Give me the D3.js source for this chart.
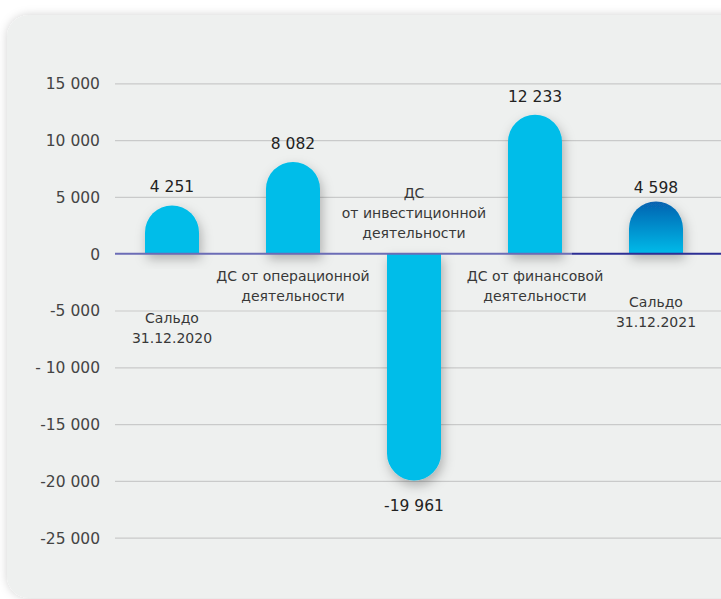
<!DOCTYPE html><html><meta charset="UTF-8">
<title>Движение ДС</title>
<style>
  body { margin: 0; background: #ffffff; overflow: hidden; }
  .tick-label { font: 15.5px "DejaVu Sans", sans-serif; fill: #444; }
  .value-label { font: 15.5px "DejaVu Sans", sans-serif; fill: #222; }
  .cat-label { font: 14px "DejaVu Sans", sans-serif; fill: #383838; }
</style>
<script src="https://cdn.jsdelivr.net/npm/d3@7"></script>
<body>
<svg width="721" height="599"></svg>
<script>

  // data
  var categories = ["Сальдо 31.12.2020", "ДС от операционной деятельности", "ДС от инвестиционной деятельности",
                    "ДС от финансовой деятельности", "Сальдо 31.12.2021"];
  var values = [4251, 8082, -19961, 12233, 4598];
  var valueLabels = ["4 251", "8 082", "-19 961", "12 233", "4 598"];
  var catLines = [["Сальдо", "31.12.2020"], ["ДС от операционной", "деятельности"],
                  ["ДС", "от инвестиционной", "деятельности"], ["ДС от финансовой", "деятельности"],
                  ["Сальдо", "31.12.2021"]];
  var tickValues = [15000, 10000, 5000, 0, -5000, -10000, -15000, -20000, -25000];
  var tickLabels = ["15 000", "10 000", "5 000", "0", "-5 000", "- 10 000", "-15 000", "-20 000", "-25 000"];

  // layout of category captions (first line y, px from the zero line)
  var catTop = [69, 27, -56, 27, 53];

  var svg = d3.select("svg"),
      width = +svg.attr("width"),
      height = +svg.attr("height");

  var defs = svg.append("defs");

  var cardShadow = defs.append("filter").attr("id", "cardShadow")
      .attr("x", "-10%").attr("y", "-10%").attr("width", "120%").attr("height", "120%");
  cardShadow.append("feDropShadow").attr("dx", 0).attr("dy", 0).attr("stdDeviation", 5)
      .attr("flood-color", "#000").attr("flood-opacity", 0.18);

  var barShadow = defs.append("filter").attr("id", "barShadow")
      .attr("x", "-60%").attr("y", "-30%").attr("width", "220%").attr("height", "160%");
  barShadow.append("feDropShadow").attr("dx", 2).attr("dy", 5).attr("stdDeviation", 6)
      .attr("flood-color", "#000").attr("flood-opacity", 0.28);

  var lastGrad = defs.append("linearGradient").attr("id", "lastGrad")
      .attr("x1", 0).attr("y1", 0).attr("x2", 0).attr("y2", 1);
  lastGrad.append("stop").attr("offset", "0%").attr("stop-color", "#0762b0");
  lastGrad.append("stop").attr("offset", "100%").attr("stop-color", "#00bbe9");

  // card
  svg.append("rect")
      .attr("x", 7).attr("y", 15)
      .attr("width", 800).attr("height", 583)
      .attr("rx", 22)
      .attr("fill", "#eef0ef")
      .attr("filter", "url(#cardShadow)");

  var y = d3.scaleLinear().domain([-25000, 15000]).range([537.7, 83.3]);
  var x = d3.scalePoint().domain(categories).range([172, 656]);
  var barW = 54, r = barW / 2;
  var gridX0 = 115;

  // grid + tick labels
  var yAxis = d3.axisLeft(y).tickValues(tickValues)
      .tickFormat(function(d, i) { return tickLabels[i]; })
      .tickSize(-(width - gridX0)).tickPadding(15);

  var gAxis = svg.append("g").attr("transform", "translate(" + gridX0 + ",0)").call(yAxis);
  gAxis.select(".domain").remove();
  gAxis.selectAll(".tick line").attr("stroke", "#c9caca").attr("stroke-width", 1.2)
      .filter(function(d) { return d === 0; }).remove();
  gAxis.selectAll(".tick text").attr("class", "tick-label").attr("dy", "0.35em")
      .attr("font-family", null).attr("font-size", null).attr("fill", null);

  // bars
  function barPath(d, i) {
    var cx = x(categories[i]), x0 = cx - r, x1 = cx + r, y0 = y(0), yv = y(d);
    if (d >= 0) {
      return "M" + x0 + "," + y0 + "L" + x0 + "," + (yv + r) +
             "A" + r + "," + r + " 0 0 1 " + x1 + "," + (yv + r) + "L" + x1 + "," + y0 + "Z";
    }
    return "M" + x0 + "," + y0 + "L" + x0 + "," + (yv - r) +
           "A" + r + "," + r + " 0 0 0 " + x1 + "," + (yv - r) + "L" + x1 + "," + y0 + "Z";
  }

  svg.append("g").selectAll("path")
    .data(values)
    .enter().append("path")
      .attr("d", barPath)
      .attr("fill", function(d, i) { return i === values.length - 1 ? "url(#lastGrad)" : "#00bde9"; })
      .attr("filter", "url(#barShadow)");

  // zero line
  var split = x(categories[3]) + r + 10;
  svg.append("line")
      .attr("x1", gridX0).attr("x2", split)
      .attr("y1", y(0)).attr("y2", y(0))
      .attr("stroke", "#6b6cb6").attr("stroke-width", 2);
  svg.append("line")
      .attr("x1", split).attr("x2", width)
      .attr("y1", y(0)).attr("y2", y(0))
      .attr("stroke", "#2d2f95").attr("stroke-width", 2);

  // value labels
  svg.append("g").selectAll("text")
    .data(values)
    .enter().append("text")
      .attr("class", "value-label")
      .attr("text-anchor", "middle")
      .attr("x", function(d, i) { return x(categories[i]); })
      .attr("y", function(d, i) { return d >= 0 ? y(d) - (i === values.length - 1 ? 8 : 13) : y(d) + 31; })
      .text(function(d, i) { return valueLabels[i]; });

  // category labels
  var cat = svg.append("g").selectAll("text")
    .data(catLines)
    .enter().append("text")
      .attr("class", "cat-label")
      .attr("text-anchor", "middle")
      .attr("x", function(d, i) { return x(categories[i]); })
      .attr("y", function(d, i) { return y(0) + catTop[i]; });

  cat.selectAll("tspan")
    .data(function(d) { return d; })
    .enter().append("tspan")
      .attr("x", function() { return d3.select(this.parentNode).attr("x"); })
      .attr("dy", function(d, j) { return j === 0 ? 0 : 20; })
      .text(function(d) { return d; });

</script>
</body></html>
